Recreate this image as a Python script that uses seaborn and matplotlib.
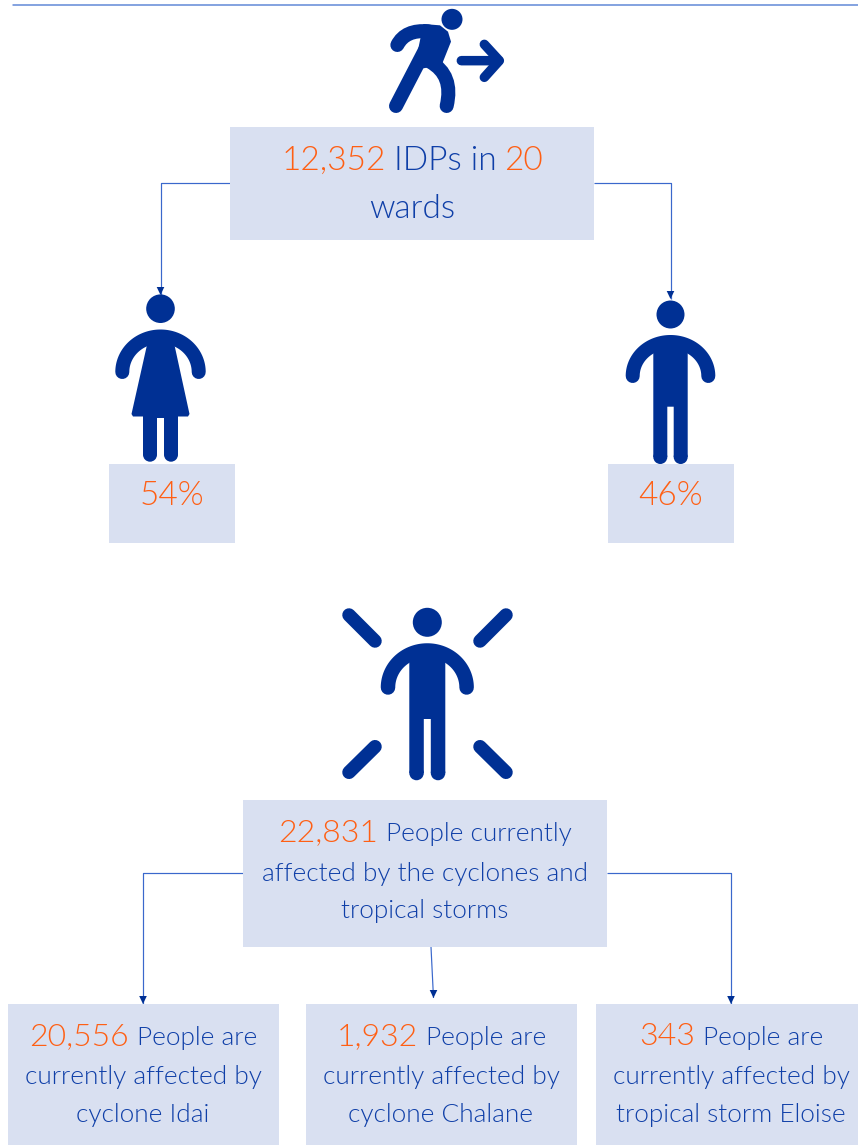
import numpy as np
import matplotlib
matplotlib.use("Agg")
import matplotlib.pyplot as plt
from matplotlib.patches import Rectangle, Circle, Polygon, PathPatch
from matplotlib.path import Path
import seaborn as sns

# ---- data
idp_total = 12352
idp_wards = 20
gender_shares = [54, 46]
affected_total = 22831
storm_counts = [20556, 1932, 343]
storm_names = ["cyclone Idai", "cyclone Chalane", "tropical storm Eloise"]

sns.set_theme(style="white")
plt.rcParams['font.family'] = ['Lato', 'DejaVu Sans']

NAVY, ORANGE, TEXT, BOX, LINE, RULE = sns.color_palette(
    ["#003094", "#FF5F14", "#0F3FA8", "#D9E0F1", "#3A68CC", "#5F86D6"])

W, H = 858, 1145
fig = plt.figure(figsize=(W / 100, H / 100), dpi=100, facecolor="white")
ax = fig.add_axes([0, 0, 1, 1])
ax.set_xlim(0, W)
ax.set_ylim(H, 0)
ax.axis("off")
PX = 0.72  # points per pixel


def box(x0, y0, x1, y1):
    ax.add_patch(Rectangle((x0, y0), x1 - x0, y1 - y0, fc=BOX, ec="none", zorder=2))


def connector(xs, ys):
    ax.plot(xs, ys, color=LINE, lw=1.2 * PX, zorder=1, solid_capstyle="butt")
    x, y = xs[-1], ys[-1]
    ax.add_patch(Polygon([(x - 3.8, y - 8), (x + 3.8, y - 8), (x, y)],
                         fc=NAVY, ec="none", zorder=3))


def stroke(xs, ys, w):
    ax.plot(xs, ys, color=NAVY, lw=w * PX, solid_capstyle="round",
            solid_joinstyle="round", zorder=4, snap=False)


def shoulders(cx, top, bottom, rx, w):
    t = np.linspace(0, np.pi, 80)
    stroke(cx + rx * np.cos(t), bottom - (bottom - top) * np.sin(t), w)


def fill(points):
    ax.add_patch(Polygon(points, fc=NAVY, ec="none", zorder=4, snap=False, lw=0))


def trunk(x0, x1, top, crotch, gap, bottom):
    """Body and both legs as one outline, with round feet."""
    mid = (x0 + x1) / 2
    fill([(x0, top), (x1, top), (x1, bottom), (mid + gap / 2, bottom),
          (mid + gap / 2, crotch), (mid - gap / 2, crotch),
          (mid - gap / 2, bottom), (x0, bottom)])
    w = (x1 - x0 - gap) / 2
    for cx in (x0 + w / 2, x1 - w / 2):
        ax.add_patch(Circle((cx, bottom), w / 2, fc=NAVY, ec="none", zorder=4))


def rich_line(cx, base, segs, gap=0.0):
    """Centre a line made of differently coloured pieces on cx."""
    r = fig.canvas.get_renderer()
    items = []
    for s, c, size in segs:
        t = ax.text(0, base, s, color=c, fontsize=size, fontweight=300,
                    va="baseline", ha="left", zorder=6)
        items.append((t, t.get_window_extent(r).width))
    total = sum(w for _, w in items) + gap * (len(items) - 1)
    x = cx - total / 2
    for t, w in items:
        t.set_x(x)
        x += w + gap


# ---- rule at the top
ax.plot([13, 858], [4.7, 4.7], color=RULE, lw=1.5 * PX, zorder=1)

# ---- connectors
connector([230, 160.5, 160.5], [183, 183, 295])
connector([594, 670.5, 670.5], [183, 183, 299])
connector([243, 143, 143], [873, 873, 1004])
connector([607, 731, 731], [873, 873, 1004])
connector([431, 433.5], [947, 998])

# ---- boxes
box(230, 127, 594, 240)
box(109, 464, 235, 543)
box(608, 464, 734, 543)
box(243, 800, 607, 947)
box(8, 1004, 279, 1145)
box(306, 1004, 577, 1145)
box(596, 1004, 858, 1145)


# ---- runner icon (coordinates from a 3x crop)
def z(x, y):
    return 220 + x / 3, y / 3


ax.add_patch(Circle(z(696, 58), 10.5, fc=NAVY, ec="none", zorder=4))
arm = Path([z(532, 135), z(556, 88), z(625, 94)],
           [Path.MOVETO, Path.CURVE3, Path.CURVE3])
ax.add_patch(PathPatch(arm, fc="none", ec=NAVY, lw=14 * PX, capstyle="round", zorder=4))
fill([z(610, 72), z(660, 76), z(684, 95), z(693, 125), z(665, 195),
      z(610, 205), z(590, 170)])
stroke(*zip(z(528, 318), z(628, 125)), 14)
right_leg = Path([z(630, 185), z(702, 225), z(680, 318)],
                 [Path.MOVETO, Path.CURVE3, Path.CURVE3])
ax.add_patch(PathPatch(right_leg, fc="none", ec=NAVY, lw=14 * PX, capstyle="round", zorder=4))
stroke(*zip(z(724, 182), z(836, 182)), 9.5)
stroke(*zip(z(793, 133), z(838, 182), z(793, 232)), 9.5)

# ---- woman icon
ax.add_patch(Circle((160.5, 308.7), 14.3, fc=NAVY, ec="none", zorder=4))
shoulders(160.5, 336.5, 372, 38.2, 14)
fill([(149, 336), (172.5, 336), (189.5, 414), (188, 416.5), (133, 416.5), (131.5, 414)])
trunk(143, 178, 412, 418, 7, 454.7)

# ---- man icon
ax.add_patch(Circle((670.5, 314.5), 14, fc=NAVY, ec="none", zorder=4))
shoulders(670.5, 342, 376, 37.8, 14)
trunk(653.3, 687.7, 340, 406.7, 6.4, 457)

# ---- affected person icon
ax.add_patch(Circle((427.3, 622.3), 14.5, fc=NAVY, ec="none", zorder=4))
shoulders(427.3, 650.5, 687.5, 39.3, 14.5)
trunk(409.3, 445.3, 648, 719, 7, 773)
for (x0, y0), (x1, y1) in [((349, 615), (375, 641)), ((506, 615), (480, 641)),
                           ((375, 746.7), (349, 772.3)), ((480, 746.7), (506, 772.3))]:
    stroke([x0, x1], [y0, y1], 13.5)

# ---- texts
BIG, MID, SMALL = 24, 23, 18.9
gap = 8
rich_line(412, 170, [(f"{idp_total:,}", ORANGE, BIG), ("IDPs in", TEXT, BIG),
                     (f"{idp_wards}", ORANGE, BIG)], gap)
rich_line(412, 218, [("wards", TEXT, BIG)])
rich_line(172, 505, [(f"{gender_shares[0]}%", ORANGE, BIG)])
rich_line(671, 505, [(f"{gender_shares[1]}%", ORANGE, BIG)])

rich_line(425, 841, [(f"{affected_total:,}", ORANGE, MID), ("People currently", TEXT, SMALL)], gap)
rich_line(425, 881, [("affected by the cyclones and", TEXT, SMALL)])
rich_line(425, 918, [("tropical storms", TEXT, SMALL)])

for cx, n, name in zip([143, 441, 731], storm_counts, storm_names):
    rich_line(cx, 1045, [(f"{n:,}", ORANGE, MID), ("People are", TEXT, SMALL)], gap)
    rich_line(cx, 1084, [("currently affected by", TEXT, SMALL)])
    rich_line(cx, 1122, [(name, TEXT, SMALL)])

sns.despine(ax=ax, left=True, bottom=True)
fig.savefig("out.png", dpi=100, facecolor="white")
